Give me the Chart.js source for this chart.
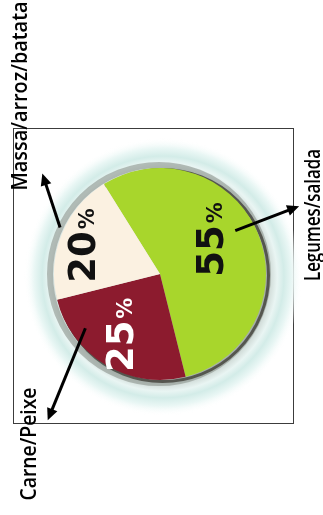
<!DOCTYPE html>
<html>
<head>
<meta charset="utf-8">
<script src="https://cdn.jsdelivr.net/npm/chart.js@4.4.0/dist/chart.umd.min.js"></script>
<style>
  html, body { margin: 0; padding: 0; background: #fff; }
  canvas { display: block; }
</style>
</head>
<body>
<canvas id="plate" width="323" height="515"></canvas>
<script>
const categories = ['Legumes/salada', 'Carne/Peixe', 'Massa/arroz/batata']
const shares = [55, 25, 20]
const sliceColors = ['#a8d62c', '#8c1b2e', '#fbf1e1']
const valueColors = ['#111111', '#ffffff', '#111111']

// where each value sits in its slice: t along the arc, r as share of the radius
const valuePlacement = [
  { t: 0.44, r: 0.57 },
  { t: 0.53, r: 0.69 },
  { t: 0.47, r: 0.79 }
]

// arrows, polar around the pie: [degrees clockwise from top, share of radius]
const arrowPlacement = [
  { from: [60, 0.82], to: [64, 1.46] },
  { from: [234, 0.87], to: [217.5, 1.74] },
  { from: [295, 1.04], to: [310.5, 1.46] }
]

// category names, written bottom to top
const namePlacement = [
  { x: 314, y: 215, len: 132 },
  { x: 30, y: 444, len: 113 },
  { x: 21, y: 96, len: 189 }
]

const polar = (cx, cy, r, deg, k) => {
  const a = (deg - 90) * Math.PI / 180
  return [cx + Math.cos(a) * r * k, cy + Math.sin(a) * r * k]
}

const platePlugin = {
  id: 'platePlugin',

  beforeDatasetsDraw: (chart) => {
    const { ctx } = chart
    const first = chart.getDatasetMeta(0).data[0]
    if (!first) {
      return
    }
    const { x, y, outerRadius: r } = first.getProps(['x', 'y', 'outerRadius'], true)

    ctx.save()
    ctx.strokeStyle = '#3c3c3c'
    ctx.lineWidth = 1
    ctx.strokeRect(13.5, 128.5, 280, 295)

    // plate rim glow
    const g = ctx.createRadialGradient(x + 3, y + 3, r, x + 3, y + 3, r + 33)
    g.addColorStop(0, '#cdd8d4')
    g.addColorStop(0.25, '#e9f5f3')
    g.addColorStop(0.45, '#d3ece8')
    g.addColorStop(0.7, '#eaf7f5')
    g.addColorStop(1, 'rgba(255,255,255,0)')
    ctx.fillStyle = g
    ctx.beginPath()
    ctx.arc(x + 3, y + 3, r + 33, 0, Math.PI * 2)
    ctx.fill()

    ctx.strokeStyle = 'rgba(140,148,142,0.6)'
    ctx.lineWidth = 6
    ctx.beginPath()
    ctx.arc(x - 1, y, r + 3, 0, Math.PI * 2)
    ctx.stroke()

    ctx.strokeStyle = '#55564f'
    ctx.lineWidth = 3
    ctx.beginPath()
    ctx.arc(x + 2.5, y + 1.5, r, 0, Math.PI * 2)
    ctx.stroke()
    ctx.restore()
  },

  afterDatasetsDraw: (chart) => {
    const { ctx } = chart
    const arcs = chart.getDatasetMeta(0).data

    arcs.forEach((arc, i) => {
      const { x, y, startAngle, endAngle, outerRadius } =
        arc.getProps(['x', 'y', 'startAngle', 'endAngle', 'outerRadius'], true)
      const p = valuePlacement[i]
      const a = startAngle + p.t * (endAngle - startAngle)
      const px = x + Math.cos(a) * outerRadius * p.r
      const py = y + Math.sin(a) * outerRadius * p.r

      const digits = String(shares[i])
      ctx.save()
      ctx.translate(px, py)
      ctx.rotate(-Math.PI / 2)
      ctx.fillStyle = valueColors[i]
      ctx.textBaseline = 'alphabetic'
      ctx.textAlign = 'left'
      ctx.font = 'bold 37px "DejaVu Sans"'
      const wd = ctx.measureText(digits).width
      ctx.font = 'bold 21px "DejaVu Sans"'
      const wp = ctx.measureText('%').width
      const total = wd + 2 + wp
      ctx.font = 'bold 37px "DejaVu Sans"'
      ctx.fillText(digits, -total / 2, 13.5)
      ctx.font = 'bold 21px "DejaVu Sans"'
      ctx.fillText('%', -total / 2 + wd + 2, 12.5)
      ctx.restore()

      // arrow to the name
      const ar = arrowPlacement[i]
      const [x1, y1] = polar(x, y, outerRadius, ar.from[0], ar.from[1])
      const [x2, y2] = polar(x, y, outerRadius, ar.to[0], ar.to[1])
      const ang = Math.atan2(y2 - y1, x2 - x1)
      const head = 12
      ctx.save()
      ctx.strokeStyle = '#000'
      ctx.fillStyle = '#000'
      ctx.lineWidth = 3
      ctx.beginPath()
      ctx.moveTo(x1, y1)
      ctx.lineTo(x2 - Math.cos(ang) * head * 0.8, y2 - Math.sin(ang) * head * 0.8)
      ctx.stroke()
      ctx.beginPath()
      ctx.moveTo(x2, y2)
      ctx.lineTo(x2 - Math.cos(ang) * head + Math.sin(ang) * 5.5, y2 - Math.sin(ang) * head - Math.cos(ang) * 5.5)
      ctx.lineTo(x2 - Math.cos(ang) * head - Math.sin(ang) * 5.5, y2 - Math.sin(ang) * head + Math.cos(ang) * 5.5)
      ctx.closePath()
      ctx.fill()
      ctx.restore()

      // category name
      const n = namePlacement[i]
      ctx.save()
      ctx.translate(n.x, n.y)
      ctx.rotate(-Math.PI / 2)
      ctx.font = '600 22px "Open Sans"'
      ctx.textAlign = 'center'
      ctx.textBaseline = 'middle'
      const w = ctx.measureText(categories[i]).width
      ctx.scale(n.len / w, 1)
      ctx.fillStyle = '#000'
      ctx.fillText(categories[i], 0, 0)
      ctx.restore()
    })
  }
}

new Chart(document.getElementById('plate').getContext('2d'), {
  type: 'pie',
  data: {
    labels: categories,
    datasets: [{
      data: shares,
      backgroundColor: sliceColors,
      borderWidth: 0,
      hoverOffset: 0,
      offset: 0
    }]
  },
  options: {
    responsive: false,
    animation: false,
    rotation: -32,
    layout: { padding: { left: 54, right: 57, top: 168, bottom: 135 } },
    plugins: {
      legend: { display: false },
      tooltip: { enabled: false }
    },
    events: []
  },
  plugins: [platePlugin]
})
</script>
</body>
</html>
